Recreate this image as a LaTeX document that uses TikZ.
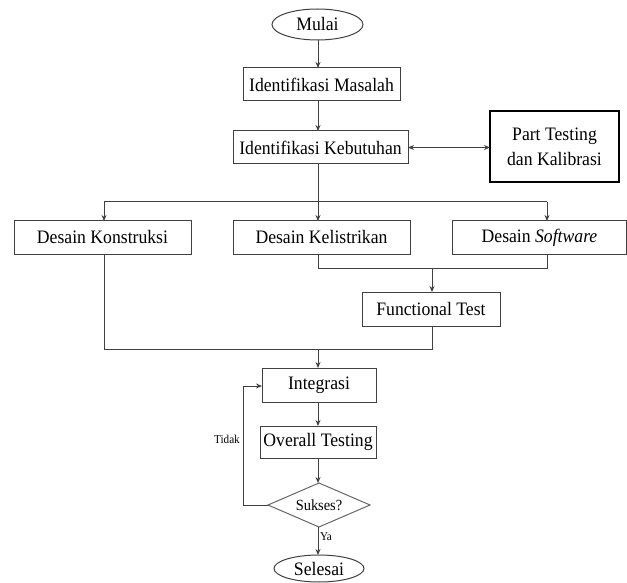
\documentclass[tikz,border=0pt]{standalone}
\usepackage{fontspec}
\setmainfont{Liberation Serif}[FakeStretch=0.93]
\usetikzlibrary{shapes.geometric,arrows.meta}
\begin{document}
\begin{tikzpicture}[x=1pt,y=-1pt,
  every node/.style={inner sep=0pt,outer sep=0pt,text=black},
  box/.style={draw=black!75,line width=1pt,rectangle,font=\fontsize{19}{23}\selectfont},
  term/.style={draw=black!75,line width=1pt,ellipse,font=\fontsize{19}{23}\selectfont},
  decide/.style={draw=black!60,line width=1pt,diamond,aspect=2.3,font=\fontsize{15.5}{18}\selectfont},
  line/.style={draw=black!75,line width=1pt},
  arr/.style={line,-{Stealth[length=6pt,width=5pt]}},
  darr/.style={line,{Stealth[length=6pt,width=5pt]}-{Stealth[length=6pt,width=5pt]}},
  small/.style={font=\fontsize{12}{14}\selectfont}]
\useasboundingbox (0,0) rectangle (627,583);
% nodes
\node[term,minimum width=91,minimum height=31] (mulai) at (317.5,24.5) {Mulai};
\node[box,minimum width=157,minimum height=33] (masalah) at (321.5,84.5) {Identifikasi Masalah};
\node[box,minimum width=175,minimum height=33] (kebutuhan) at (320.5,147.5) {Identifikasi Kebutuhan};
\node[box,draw=black,line width=1.8pt,minimum width=129,minimum height=71,align=center,font=\fontsize{19}{25}\selectfont] (part) at (554.5,146.5) {Part Testing\\dan Kalibrasi};
\node[box,minimum width=177,minimum height=33] (konstruksi) at (102.5,237.5) {Desain Konstruksi};
\node[box,minimum width=177,minimum height=33] (kelistrikan) at (321.5,237.5) {Desain Kelistrikan};
\node[box,minimum width=174,minimum height=33] (software) at (539.5,237.5) {Desain \textit{Software}};
\node[box,minimum width=138,minimum height=34] (functional) at (431,309) {Functional Test};
\node[box,minimum width=114,minimum height=34] (integrasi) at (319,385) {Integrasi};
\node[box,minimum width=116,minimum height=32] (overall) at (318,442) {Overall Testing};
\node[decide,minimum width=102,minimum height=44] (sukses) at (319,505) {Sukses?};
\node[term,minimum width=90,minimum height=27] (selesai) at (319,568.5) {Selesai};
% helper coordinates
\coordinate (sp) at (318,202);
\coordinate (sL) at (104,202);
\coordinate (sR) at (547,202);
\coordinate (m1) at (318,268);
\coordinate (m2) at (547,268);
\coordinate (j1) at (432,268);
\coordinate (b1) at (104,349);
\coordinate (b2) at (432,349);
\coordinate (bj) at (318,349);
\coordinate (lp1) at (243,505);
\coordinate (lp2) at (243,386);
% connectors
\draw[arr] (mulai.south -| sp) -- (masalah.north -| sp);
\draw[arr] (masalah.south -| sp) -- (kebutuhan.north -| sp);
\draw[darr] (kebutuhan.east) -- (part.west |- kebutuhan.east);
\draw[line] (kebutuhan.south -| sp) -- (sp);
\draw[line] (sL) -- (sR);
\draw[arr] (sL) -- (konstruksi.north -| sL);
\draw[arr] (sp) -- (kelistrikan.north -| sp);
\draw[arr] (sR) -- (software.north -| sR);
\draw[line] (kelistrikan.south -| m1) -- (m1) -- (m2) -- (software.south -| m2);
\draw[arr] (j1) -- (functional.north -| j1);
\draw[line] (konstruksi.south -| b1) -- (b1) -- (b2) -- (functional.south -| b2);
\draw[arr] (bj) -- (integrasi.north -| bj);
\draw[arr] (integrasi.south -| bj) -- (overall.north -| bj);
\draw[arr] (overall.south -| bj) -- (sukses.north -| bj);
\draw[arr] (sukses.south -| bj) -- node[small,right,xshift=2pt,pos=0.35] (ya) {Ya} (selesai.north -| bj);
\draw[arr] (sukses.west) -- (lp1) -- (lp2) -- (integrasi.west |- lp2);
\node[small] (tidak) at (227,439) {Tidak};
\end{tikzpicture}
\end{document}
